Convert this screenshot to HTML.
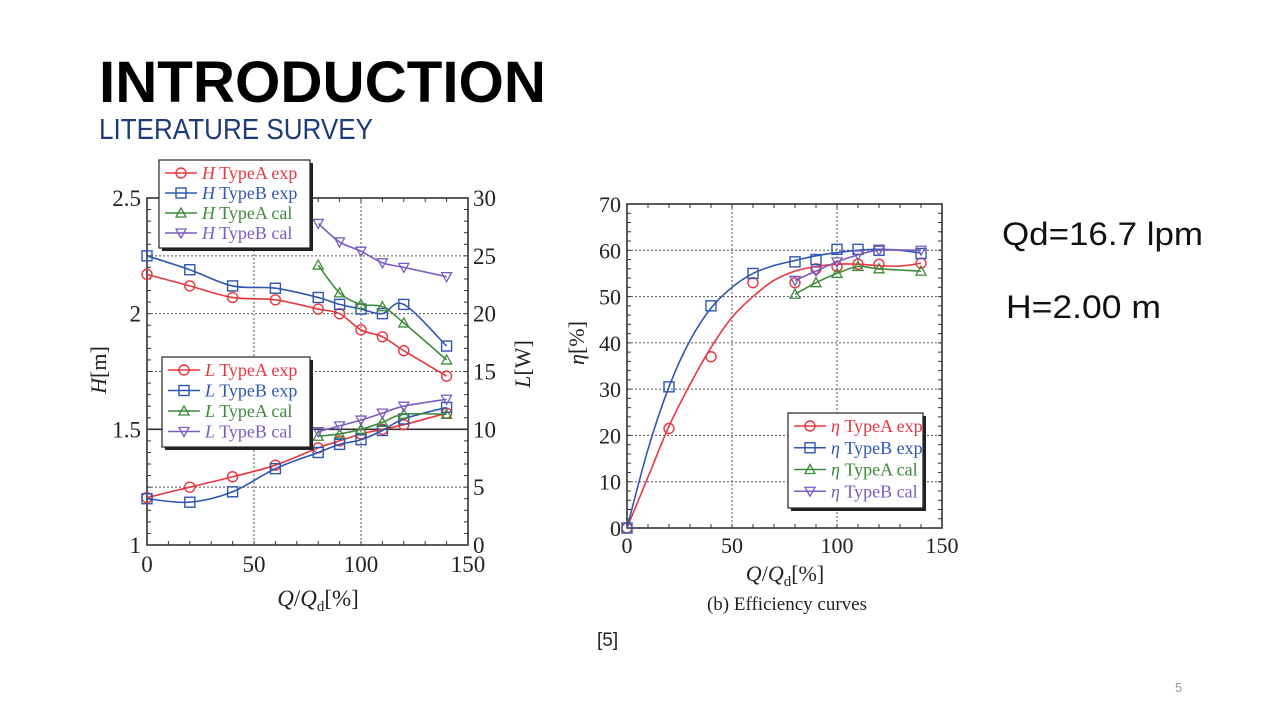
<!DOCTYPE html>
<html><head><meta charset="utf-8"><style>
html,body{margin:0;padding:0;background:#fff;}
svg{display:block;}
.serif{font-family:"Liberation Serif",serif;}
.sans{font-family:"Liberation Sans",sans-serif;}
</style></head><body>
<svg id="root" width="1280" height="720" viewBox="0 0 1280 720" xmlns="http://www.w3.org/2000/svg">
<text class="sans" x="99" y="102" font-size="58" font-weight="bold" textLength="447" lengthAdjust="spacingAndGlyphs">INTRODUCTION</text>
<text class="sans" x="99" y="139" font-size="29" fill="#1f3a78" textLength="274" lengthAdjust="spacingAndGlyphs">LITERATURE SURVEY</text>
<text class="sans" x="1002" y="245" font-size="32" fill="#111" textLength="201" lengthAdjust="spacingAndGlyphs">Qd=16.7 lpm</text>
<text class="sans" x="1006" y="318" font-size="32" fill="#111" textLength="155" lengthAdjust="spacingAndGlyphs">H=2.00 m</text>
<text class="sans" x="597" y="646" font-size="19" fill="#222">[5]</text>
<text class="sans" x="1175" y="692" font-size="13" fill="#999">5</text>
<g id="left"></g>
<g id="right"></g>
</svg>
<script>
// ---- Left chart data ----
const qAll = [0,20,40,60,80,90,100,110,120,140];
const qCal = [80,90,100,110,120,140];
const hAexp = [2.17,2.12,2.07,2.06,2.02,2.00,1.93,1.90,1.84,1.73];
const hBexp = [2.25,2.19,2.12,2.11,2.07,2.04,2.02,2.00,2.04,1.86];
const hAcal = [2.21,2.09,2.04,2.03,1.96,1.80];
const hBcal = [2.39,2.31,2.27,2.22,2.20,2.16];
const lAexp = [4.1,5.0,5.9,6.9,8.4,9.0,9.6,10.0,10.4,11.4];
const lBexp = [4.0,3.7,4.6,6.6,8.0,8.7,9.1,9.9,10.9,11.9];
const lAcal = [9.4,9.6,10.0,10.6,11.3,11.3];
const lBcal = [9.8,10.3,10.8,11.4,12.0,12.6];
const hTicks = [1,1.5,2,2.5];
const lTicks = [0,5,10,15,20,25,30];
const xTicks = [0,50,100,150];
// ---- Right chart data ----
const eAexp = [0,21.5,37,53,53,56,56.5,57,57,57.2];
const eBexp = [0,30.5,48,55,57.5,58,60.2,60.2,60,59.3];
const eAcal = [50.5,53,55,56.5,56,55.5];
const eBcal = [53.5,55.5,57.5,59,60,60];
// fitted trend curves drawn through the exp points
const qFit = [0,10,20,30,40,50,60,70,80,90,100,110,120,130,140];
const eAfit = [0,11,22,31,39,45.5,50,53.5,55.5,56.5,57,57,56.7,56.6,57.2];
const eBfit = [0,17,30.5,40.5,47.5,52,55,56.7,57.8,58.8,59.5,60,60.2,60,59.4];
const eTicks = [0,10,20,30,40,50,60,70];

const NS="http://www.w3.org/2000/svg";
const RED="#e8363f",BLUE="#2f56b0",GREEN="#3d8a3a",PURP="#7a5cc0";
function mk(parent,tag,attrs){const e=document.createElementNS(NS,tag);for(const k in attrs)e.setAttribute(k,attrs[k]);parent.appendChild(e);return e;}
function smooth(pts){let d="M"+pts[0][0]+","+pts[0][1];for(let i=0;i<pts.length-1;i++){const p0=pts[Math.max(0,i-1)],p1=pts[i],p2=pts[i+1],p3=pts[Math.min(pts.length-1,i+2)];const c1=[p1[0]+(p2[0]-p0[0])/6,p1[1]+(p2[1]-p0[1])/6],c2=[p2[0]-(p3[0]-p1[0])/6,p2[1]-(p3[1]-p1[1])/6];d+=" C"+c1+" "+c2+" "+p2;}return d;}
function marker(g,shape,x,y,col){
  let e;
  if(shape==="o")e=mk(g,"circle",{cx:x,cy:y,r:5,fill:"none",stroke:col,"stroke-width":1.4});
  else if(shape==="s")e=mk(g,"rect",{x:x-5,y:y-5,width:10,height:10,fill:"none",stroke:col,"stroke-width":1.4});
  else if(shape==="t")e=mk(g,"polygon",{points:`${x},${y-5} ${x-5},${y+4} ${x+5},${y+4}`,fill:"none",stroke:col,"stroke-width":1.3});
  else e=mk(g,"polygon",{points:`${x},${y+5} ${x-5},${y-4} ${x+5},${y-4}`,fill:"none",stroke:col,"stroke-width":1.3});
  
  
}
function series(g,xs,ys,sx,sy,col,shape,name,fx,fy){
  const sg=mk(g,"g",{});
  
  
  const pts=xs.map((x,i)=>[sx(x),sy(ys[i])]);
  const cpts=fx?fx.map((x,i)=>[sx(x),sy(fy[i])]):pts;
  mk(sg,"path",{d:smooth(cpts),fill:"none",stroke:col,"stroke-width":1.6});
  pts.forEach(p=>marker(sg,shape,p[0],p[1],col));
}
function legend(g,x,y,w,h,items,name){
  const lg=mk(g,"g",{});
  
  
  mk(lg,"rect",{x:x+3,y:y+3,width:w,height:h,fill:"#222"});
  mk(lg,"rect",{x:x,y:y,width:w,height:h,fill:"#fff",stroke:"#222","stroke-width":1.2});
  items.forEach((it,i)=>{
    const yy=y+13+i*(h-8)/items.length;
    const ig=mk(lg,"g",{});
    
    
    mk(ig,"line",{x1:x+6,y1:yy,x2:x+38,y2:yy,stroke:it.c,"stroke-width":1.6});
    marker(ig,it.s,x+22,yy,it.c);
    const t=mk(ig,"text",{x:x+43,y:yy+6,"font-size":18,fill:it.c,class:"serif"});
    const em=mk(t,"tspan",{"font-style":"italic"});em.textContent=it.p;
    const r=mk(t,"tspan",{});r.textContent=" "+it.t;
  });
}
function frame(g,X0,X1,Y0,Y1,minorY,minorX){
  mk(g,"rect",{x:X0,y:Y0,width:X1-X0,height:Y1-Y0,fill:"none",stroke:"#333","stroke-width":1.6});
  minorX.forEach(x=>{mk(g,"line",{x1:x,y1:Y1,x2:x,y2:Y1-4,stroke:"#333"});mk(g,"line",{x1:x,y1:Y0,x2:x,y2:Y0+4,stroke:"#333"});});
  minorY.forEach(y=>{mk(g,"line",{x1:X0,y1:y,x2:X0+4,y2:y,stroke:"#333"});mk(g,"line",{x1:X1,y1:y,x2:X1-4,y2:y,stroke:"#333"});});
}
// Left chart
(function(){
  const g=document.getElementById("left");
  const X0=147,X1=468,Y0=198,Y1=545;
  const sx=v=>X0+(v/150)*(X1-X0);
  const sh=v=>Y1-(v-1)/1.5*(Y1-Y0);
  const sl=v=>Y1-v/30*(Y1-Y0);
  const grid=mk(g,"g",{});
  
  
  lTicks.slice(1,-1).forEach(v=>mk(grid,"line",{x1:X0,x2:X1,y1:sl(v),y2:sl(v),stroke:"#555","stroke-dasharray":"2,2","stroke-width":1}));
  mk(grid,"line",{x1:X0,x2:X1,y1:sh(1.5),y2:sh(1.5),stroke:"#333","stroke-width":1.6});
  xTicks.slice(1,-1).forEach(v=>mk(grid,"line",{x1:sx(v),x2:sx(v),y1:Y0,y2:Y1,stroke:"#555","stroke-dasharray":"2,2"}));
  const mx=[];for(let v=0;v<=150;v+=10)mx.push(sx(v));
  const my=[];for(let v=0;v<=30;v+=1)my.push(sl(v));
  frame(g,X0,X1,Y0,Y1,my,mx);
  hTicks.forEach(v=>{const t=mk(g,"text",{x:X0-6,y:sh(v)+8,"text-anchor":"end","font-size":23,class:"serif",fill:"#222"});t.textContent=String(v);});
  lTicks.forEach(v=>{const t=mk(g,"text",{x:X1+5,y:sl(v)+8,"font-size":23,class:"serif",fill:"#222"});t.textContent=String(v);});
  xTicks.forEach(v=>{const t=mk(g,"text",{x:sx(v),y:Y1+27,"text-anchor":"middle","font-size":23,class:"serif",fill:"#222"});t.textContent=String(v);});
  series(g,qAll,hAexp,sx,sh,RED,"o","h-typea-exp");
  series(g,qAll,hBexp,sx,sh,BLUE,"s","h-typeb-exp");
  series(g,qCal,hAcal,sx,sh,GREEN,"t","h-typea-cal");
  series(g,qCal,hBcal,sx,sh,PURP,"v","h-typeb-cal");
  series(g,qAll,lAexp,sx,sl,RED,"o","l-typea-exp");
  series(g,qAll,lBexp,sx,sl,BLUE,"s","l-typeb-exp");
  series(g,qCal,lAcal,sx,sl,GREEN,"t","l-typea-cal");
  series(g,qCal,lBcal,sx,sl,PURP,"v","l-typeb-cal");
  legend(g,159,160,151,88,[{p:"H",t:"TypeA exp",c:RED,s:"o"},{p:"H",t:"TypeB exp",c:BLUE,s:"s"},{p:"H",t:"TypeA cal",c:GREEN,s:"t"},{p:"H",t:"TypeB cal",c:PURP,s:"v"}],"h-legend");
  legend(g,162,357,148,90,[{p:"L",t:"TypeA exp",c:RED,s:"o"},{p:"L",t:"TypeB exp",c:BLUE,s:"s"},{p:"L",t:"TypeA cal",c:GREEN,s:"t"},{p:"L",t:"TypeB cal",c:PURP,s:"v"}],"l-legend");
  const yl=mk(g,"text",{x:0,y:0,transform:"translate(106,370) rotate(-90)","text-anchor":"middle","font-size":22,class:"serif",fill:"#222"});
  yl.innerHTML='<tspan font-style="italic">H</tspan>[m]';
  
  const yr=mk(g,"text",{x:0,y:0,transform:"translate(530,364) rotate(-90)","text-anchor":"middle","font-size":22,class:"serif",fill:"#222"});
  yr.innerHTML='<tspan font-style="italic">L</tspan>[W]';
  
  const xl=mk(g,"text",{x:318,y:606,"text-anchor":"middle","font-size":23,class:"serif",fill:"#222"});
  xl.innerHTML='<tspan font-style="italic">Q</tspan>/<tspan font-style="italic">Q</tspan><tspan font-size="15" dy="5">d</tspan><tspan dy="-5">[%]</tspan>';
  
})();
// Right chart
(function(){
  const g=document.getElementById("right");
  const X0=627,X1=942,Y0=204,Y1=528;
  const sx=v=>X0+(v/150)*(X1-X0);
  const se=v=>Y1-v/70*(Y1-Y0);
  eTicks.slice(1,-1).forEach(v=>mk(g,"line",{x1:X0,x2:X1,y1:se(v),y2:se(v),stroke:"#555","stroke-dasharray":"2,2"}));
  xTicks.slice(1,-1).forEach(v=>mk(g,"line",{x1:sx(v),x2:sx(v),y1:Y0,y2:Y1,stroke:"#555","stroke-dasharray":"2,2"}));
  const mx=[];for(let v=0;v<=150;v+=10)mx.push(sx(v));
  const my=[];for(let v=0;v<=70;v+=2)my.push(se(v));
  frame(g,X0,X1,Y0,Y1,my,mx);
  eTicks.forEach(v=>{const t=mk(g,"text",{x:X0-6,y:se(v)+8,"text-anchor":"end","font-size":22,class:"serif",fill:"#222"});t.textContent=String(v);});
  xTicks.forEach(v=>{const t=mk(g,"text",{x:sx(v),y:Y1+25,"text-anchor":"middle","font-size":22,class:"serif",fill:"#222"});t.textContent=String(v);});
  series(g,qAll,eAexp,sx,se,RED,"o","eta-typea-exp",qFit,eAfit);
  series(g,qAll,eBexp,sx,se,BLUE,"s","eta-typeb-exp",qFit,eBfit);
  series(g,qCal,eAcal,sx,se,GREEN,"t","eta-typea-cal");
  series(g,qCal,eBcal,sx,se,PURP,"v","eta-typeb-cal");
  legend(g,788,413,135,95,[{p:"η",t:"TypeA exp",c:RED,s:"o"},{p:"η",t:"TypeB exp",c:BLUE,s:"s"},{p:"η",t:"TypeA cal",c:GREEN,s:"t"},{p:"η",t:"TypeB cal",c:PURP,s:"v"}],"eta-legend");
  const yl=mk(g,"text",{x:0,y:0,transform:"translate(584,343) rotate(-90)","text-anchor":"middle","font-size":22,class:"serif",fill:"#222"});
  yl.innerHTML='<tspan font-style="italic">η</tspan>[%]';
  
  const xl=mk(g,"text",{x:785,y:581,"text-anchor":"middle","font-size":22,class:"serif",fill:"#222"});
  xl.innerHTML='<tspan font-style="italic">Q</tspan>/<tspan font-style="italic">Q</tspan><tspan font-size="15" dy="5">d</tspan><tspan dy="-5">[%]</tspan>';
  
  const cap=mk(g,"text",{x:787,y:610,"text-anchor":"middle","font-size":19,class:"serif",fill:"#222"});
  cap.textContent="(b) Efficiency curves";
  
})();
</script>
</body></html>
